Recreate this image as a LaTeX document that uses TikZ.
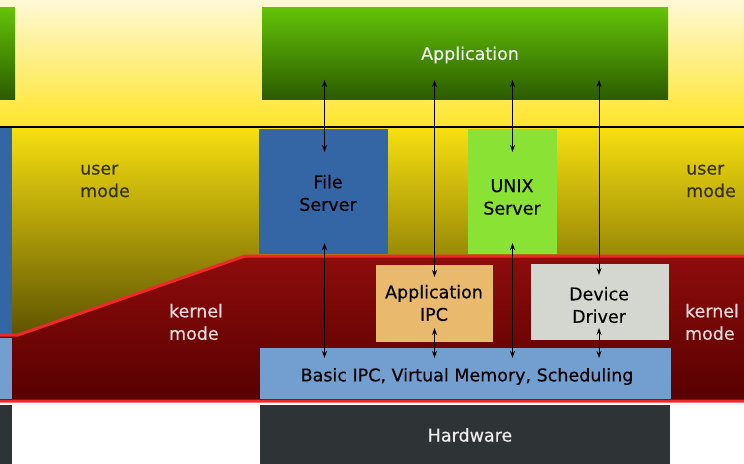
\documentclass[tikz,border=0pt]{standalone}
\usepackage{fontspec}
\setmainfont{DejaVu Sans}[FakeBold=0.35]
\usetikzlibrary{arrows.meta,calc}
\definecolor{bgtop}{HTML}{FFF9DC}
\definecolor{bgbot}{HTML}{FFE52A}
\definecolor{usertop}{HTML}{F7DF10}
\definecolor{userbot}{HTML}{5C5200}
\definecolor{apptop}{HTML}{64C408}
\definecolor{appbot}{HTML}{2B5B00}
\definecolor{kertop}{HTML}{8E0C0C}
\definecolor{kerbot}{HTML}{580000}
\definecolor{kerline}{HTML}{EF2929}
\definecolor{fsblue}{HTML}{3465A4}
\definecolor{unixgreen}{HTML}{8AE234}
\definecolor{ipcorange}{HTML}{E9B96E}
\definecolor{ddgray}{HTML}{D3D7CF}
\definecolor{basicblue}{HTML}{729FCF}
\definecolor{hwdark}{HTML}{2E3436}
\definecolor{lighttext}{HTML}{EEEEEC}
\definecolor{usertext}{HTML}{35330C}
\definecolor{kertext}{HTML}{EBDADA}
\begin{document}
\begin{tikzpicture}[x=1pt,y=-1pt,
  box/.style={inner sep=0pt, outer sep=0pt, draw=none},
  txt/.style={inner sep=0pt, align=center, font=\fontsize{17.5}{22.5}\selectfont},
  lbl/.style={inner sep=0pt, align=left, font=\fontsize{17.5}{22.5}\selectfont},
  arr/.style={{Stealth[length=7pt,width=5pt]}-{Stealth[length=7pt,width=5pt]}, line width=1pt, black}]
\useasboundingbox (0,0) rectangle (744,463);
\clip (0,0) rectangle (744,463);
% backgrounds
\shade[top color=bgtop, bottom color=bgbot] (-5,-5) rectangle (750,127);
\shade[top color=usertop, bottom color=userbot] (-5,128) rectangle (750,338);
\fill[white] (-5,400) rectangle (750,470);
\draw[line width=2pt, black] (-5,127) -- (750,127);
% left cut-off column
\node[box, fill=fsblue, minimum width=17pt, minimum height=208pt] (lfs) at (3.5,232) {};
% kernel region
\shadedraw[draw=kerline, line width=3pt, top color=kertop, bottom color=kerbot]
  (-8,335) -- (18,335) -- (245,256) -- (752,256) -- (752,401) -- (-8,401) -- cycle;
\node[box, fill=basicblue, minimum width=17pt, minimum height=61pt] (lbasic) at (3.5,368.5) {};
\node[box, fill=hwdark, minimum width=17pt, minimum height=65pt] (lhw) at (3.5,437.5) {};
\node[box, top color=apptop, bottom color=appbot, minimum width=20pt, minimum height=92pt] (appL) at (5,53) {};
% main boxes
\node[box, top color=apptop, bottom color=appbot, minimum width=406pt, minimum height=92pt] (app) at (465,53) {};
\node[box, fill=fsblue, minimum width=129pt, minimum height=125pt] (fs) at (323.5,191.5) {};
\node[box, fill=unixgreen, minimum width=89pt, minimum height=125pt] (unix) at (512.5,191.5) {};
\node[box, fill=ipcorange, minimum width=117pt, minimum height=77pt] (aipc) at (434.5,303.5) {};
\node[box, fill=ddgray, minimum width=138pt, minimum height=76pt] (dd) at (600,302) {};
\node[box, fill=basicblue, minimum width=411pt, minimum height=51pt] (basic) at (465.5,373.5) {};
\node[box, fill=hwdark, minimum width=410pt, minimum height=65pt] (hw) at (465,437.5) {};
% box texts
\node[txt, text=lighttext] (appT) at (470,55) {Application};
\node[txt] (fsT) at (328,193) {File\\Server};
\node[txt] (unixT) at (512,197) {UNIX\\Server};
\node[txt] (aipcT) at (434,303) {Application\\IPC};
\node[txt] (ddT) at (599,305) {Device\\Driver};
\node[txt] (basicT) at (467,376.5) {Basic IPC, Virtual Memory, Scheduling};
\node[txt, text=lighttext] (hwT) at (470,435) {Hardware};
% mode labels
\node[lbl, text=usertext] (um1) at (105,181) {user\\mode};
\node[lbl, text=usertext] (um2) at (711,181) {user\\mode};
\node[lbl, text=kertext] (km1) at (196,322) {kernel\\mode};
\node[lbl, text=kertext] (km2) at (712,322) {kernel\\mode};
% connectors
\draw[arr] ($(app.south -| fs.center)+(1,-19)$) -- ($(fs.north)+(1,23)$);
\draw[arr] ($(fs.south)+(1,-11)$) -- ($(basic.north -| fs.center)+(1,10)$);
\draw[arr] ($(app.south -| aipc.center)+(0,-19)$) -- ($(aipc.north)+(0,12)$);
\draw[arr] ($(aipc.south)+(0,-14)$) -- ($(basic.north -| aipc.center)+(0,10)$);
\draw[arr] ($(app.south -| unix.center)+(0,-19)$) -- ($(unix.north)+(0,23)$);
\draw[arr] ($(unix.south)+(0,-11)$) -- ($(basic.north -| unix.center)+(0,10)$);
\draw[arr] ($(app.south -| dd.center)+(-1,-19)$) -- ($(dd.north)+(-1,11)$);
\draw[arr] ($(dd.south)+(-1,-12)$) -- ($(basic.north -| dd.center)+(-1,10)$);
\end{tikzpicture}
\end{document}
